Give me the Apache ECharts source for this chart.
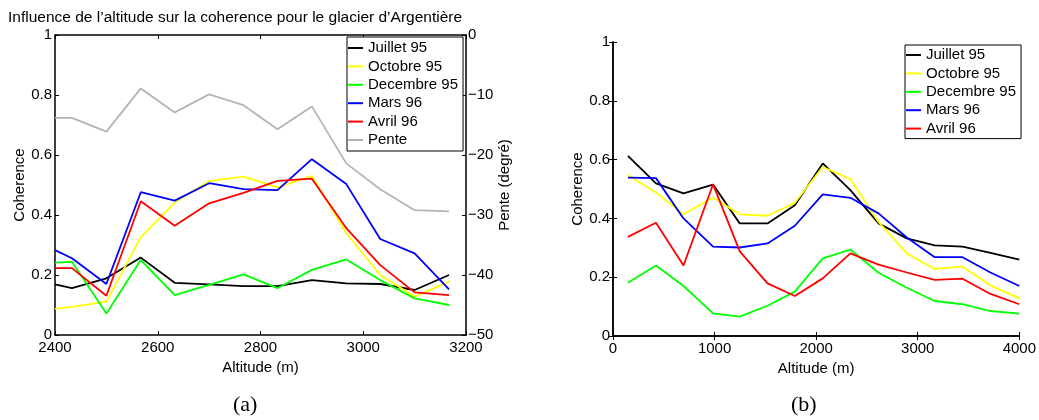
<!DOCTYPE html>
<html>
<head>
<meta charset="utf-8">
<script src="https://cdn.jsdelivr.net/npm/echarts@6/dist/echarts.min.js"></script>
<style>
html,body{margin:0;padding:0;background:#fff;}
#c{width:1039px;height:420px;}
</style>
</head>
<body>
<div id="c"></div>
<script>
// ---- Data (chart a) ----
const altA = [2400, 2433, 2500, 2567, 2633, 2700, 2767, 2833, 2900, 2967, 3033, 3100, 3167];
const julA = [0.169, 0.156, 0.189, 0.258, 0.174, 0.169, 0.163, 0.163, 0.183, 0.172, 0.170, 0.150, 0.200];
const octA = [0.087, 0.094, 0.111, 0.326, 0.441, 0.513, 0.528, 0.492, 0.530, 0.339, 0.200, 0.128, 0.178];
const decA = [0.241, 0.244, 0.072, 0.250, 0.133, 0.167, 0.202, 0.156, 0.217, 0.252, 0.183, 0.122, 0.100];
const marA = [0.283, 0.256, 0.170, 0.476, 0.448, 0.506, 0.486, 0.483, 0.586, 0.503, 0.320, 0.272, 0.152];
const avrA = [0.223, 0.223, 0.131, 0.446, 0.364, 0.439, 0.474, 0.514, 0.521, 0.356, 0.233, 0.142, 0.133];
const penteA = [-13.8, -13.8, -16.1, -8.9, -12.9, -9.9, -11.7, -15.7, -11.9, -21.4, -25.7, -29.2, -29.4];

// ---- Data (chart b) ----
const altB = [147, 423, 694, 985, 1248, 1521, 1790, 2065, 2337, 2614, 2892, 3167, 3441, 3716, 4000];
const julB = [0.613, 0.519, 0.485, 0.515, 0.383, 0.383, 0.445, 0.587, 0.496, 0.383, 0.332, 0.308, 0.304, 0.283, 0.260];
const octB = [0.547, 0.488, 0.414, 0.471, 0.414, 0.409, 0.453, 0.575, 0.533, 0.388, 0.281, 0.228, 0.236, 0.172, 0.128];
const decB = [0.181, 0.240, 0.170, 0.077, 0.066, 0.103, 0.151, 0.264, 0.294, 0.215, 0.164, 0.119, 0.108, 0.085, 0.076];
const marB = [0.539, 0.537, 0.400, 0.304, 0.301, 0.315, 0.375, 0.482, 0.470, 0.417, 0.335, 0.268, 0.268, 0.216, 0.170];
const avrB = [0.337, 0.385, 0.240, 0.516, 0.288, 0.179, 0.136, 0.196, 0.281, 0.243, 0.216, 0.191, 0.195, 0.143, 0.108];

const namesA = ['Juillet 95', 'Octobre 95', 'Decembre 95', 'Mars 96', 'Avril 96', 'Pente'];
const namesB = ['Juillet 95', 'Octobre 95', 'Decembre 95', 'Mars 96', 'Avril 96'];
const colors = ['#000000', '#ffff00', '#00ff00', '#0000ff', '#ff0000', '#b4b4b4'];

const titleText = 'Influence de l\u2019altitude sur la coherence pour le glacier d\u2019Argenti\u00e8re';
const xNameA = 'Altitude (m)';
const xNameB = 'Altitude (m)';
const yName = 'Coherence';
const y2Name = 'Pente (degr\u00e9)';

const FF = '"Liberation Sans", Arial, Helvetica, sans-serif';
const FS = 15;

function pairs(xs, ys) { return xs.map((x, i) => [x, ys[i]]); }

const axLine = { show: true, lineStyle: { color: '#000', width: 1.5 } };
const tickIn = { show: true, inside: true, length: 4, lineStyle: { color: '#000', width: 1 } };
const lbl = { color: '#000', fontSize: FS, fontFamily: FF };
const plain = v => String(v);

const seriesA = [julA, octA, decA, marA, avrA].map((d, i) => ({
  name: namesA[i], type: 'line', xAxisIndex: 0, yAxisIndex: 0,
  data: pairs(altA, d), symbol: 'none', color: colors[i],
  lineStyle: { width: 1.8, color: colors[i] }, animation: false, z: 3
}));
seriesA.push({
  name: namesA[5], type: 'line', xAxisIndex: 0, yAxisIndex: 1,
  data: pairs(altA, penteA), symbol: 'none', color: colors[5],
  lineStyle: { width: 1.8, color: colors[5] }, animation: false, z: 2
});
const seriesB = [julB, octB, decB, marB, avrB].map((d, i) => ({
  name: namesB[i], type: 'line', xAxisIndex: 2, yAxisIndex: 2,
  data: pairs(altB, d), symbol: 'none', color: colors[i],
  lineStyle: { width: 1.8, color: colors[i] }, animation: false, z: 3
}));

const minus = v => (v < 0 ? '\u2212' + (-v) : String(v));

const legendCommon = {
  orient: 'vertical', icon: 'rect', itemWidth: 15, itemHeight: 2,
  itemGap: 3.4, backgroundColor: '#fff', borderColor: '#000', borderWidth: 1,
  textStyle: { color: '#000', fontSize: FS, fontFamily: FF, lineHeight: 15 },
  selectedMode: false
};

const option = {
  animation: false,
  backgroundColor: '#fff',
  title: { text: titleText, left: 8, top: 10, padding: 0,
    textStyle: { fontSize: 15.5, fontWeight: 'normal', fontFamily: FF, color: '#000' } },
  grid: [
    { left: 55, right: 573, top: 35, bottom: 85, show: true, backgroundColor: '#fff', borderWidth: 0 },
    { left: 613, right: 17, top: 42, bottom: 84, show: true, backgroundColor: '#fff', borderWidth: 0 }
  ],
  legend: [
    Object.assign({}, legendCommon, { data: namesA, left: 347, top: 37, padding: [3.5, 5, 3.5, 1] }),
    Object.assign({}, legendCommon, { data: namesB, left: 905, top: 45, padding: [2.5, 5, 2.5, 1] })
  ],
  xAxis: [
    { type: 'value', gridIndex: 0, min: 2400, max: 3200, interval: 200, position: 'bottom',
      axisLine: axLine, axisTick: tickIn, splitLine: { show: false },
      axisLabel: Object.assign({ margin: 5, formatter: plain }, lbl),
      name: xNameA, nameLocation: 'middle', nameGap: 19,
      nameTextStyle: { fontSize: FS, fontFamily: FF, color: '#000' } },
    { type: 'value', gridIndex: 0, min: 2400, max: 3200, interval: 200, position: 'top',
      axisLine: axLine, axisTick: tickIn, splitLine: { show: false }, axisLabel: { show: false } },
    { type: 'value', gridIndex: 1, min: 0, max: 4000, interval: 1000, position: 'bottom',
      axisLine: axLine, axisTick: tickIn, splitLine: { show: false },
      axisLabel: Object.assign({ margin: 5, formatter: plain }, lbl),
      name: xNameB, nameLocation: 'middle', nameGap: 18,
      nameTextStyle: { fontSize: FS, fontFamily: FF, color: '#000' } },
    { type: 'value', gridIndex: 1, min: 0, max: 4000, interval: 1000, position: 'top',
      axisLine: axLine, axisTick: tickIn, splitLine: { show: false }, axisLabel: { show: false } }
  ],
  yAxis: [
    { type: 'value', gridIndex: 0, min: 0, max: 1, interval: 0.2, position: 'left',
      axisLine: axLine, axisTick: tickIn, splitLine: { show: false },
      axisLabel: Object.assign({ margin: 3 }, lbl),
      name: yName, nameLocation: 'middle', nameGap: 26, nameRotate: 90,
      nameTextStyle: { fontSize: FS, fontFamily: FF, color: '#000' } },
    { type: 'value', gridIndex: 0, min: -50, max: 0, interval: 10, position: 'right',
      axisLine: axLine, axisTick: tickIn, splitLine: { show: false },
      axisLabel: Object.assign({ margin: 2, formatter: minus }, lbl),
      name: y2Name, nameLocation: 'middle', nameGap: 30, nameRotate: 90,
      nameTextStyle: { fontSize: FS, fontFamily: FF, color: '#000' } },
    { type: 'value', gridIndex: 1, min: 0, max: 1, interval: 0.2, position: 'left',
      axisLine: axLine, axisTick: tickIn, splitLine: { show: false },
      axisLabel: Object.assign({ margin: 3 }, lbl),
      name: yName, nameLocation: 'middle', nameGap: 27, nameRotate: 90,
      nameTextStyle: { fontSize: FS, fontFamily: FF, color: '#000' } },
    { type: 'value', gridIndex: 1, min: 0, max: 1, interval: 0.2, position: 'right',
      axisLine: axLine, axisTick: tickIn, splitLine: { show: false }, axisLabel: { show: false } }
  ],
  graphic: [
    { type: 'text', left: 233, top: 394, style: { text: '(a)', fontSize: 22, fontFamily: '"Liberation Serif", "DejaVu Serif", serif', fill: '#000' } },
    { type: 'text', left: 791, top: 394, style: { text: '(b)', fontSize: 22, fontFamily: '"Liberation Serif", "DejaVu Serif", serif', fill: '#000' } }
  ],
  series: seriesA.concat(seriesB)
};

const chart = echarts.init(document.getElementById('c'), null, { renderer: 'canvas' });
chart.setOption(option);
</script>
</body>
</html>
